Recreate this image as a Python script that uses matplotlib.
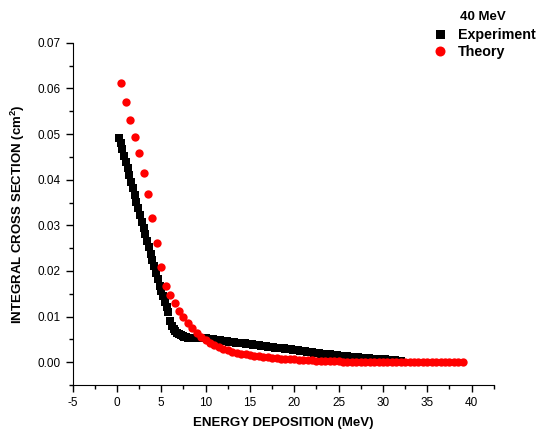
import numpy as np
import matplotlib
matplotlib.use("Agg")
import matplotlib.pyplot as plt
from matplotlib.ticker import MultipleLocator

plt.rcParams['font.family'] = ['Liberation Sans', 'DejaVu Sans']
plt.rcParams['mathtext.fontset'] = 'custom'
plt.rcParams['mathtext.rm'] = 'Liberation Sans'
plt.rcParams['mathtext.bf'] = 'Liberation Sans:bold'
plt.rcParams['axes.unicode_minus'] = False

# experiment: 0.2 MeV grid from 0.2 to 32.0
exp_energy = np.round(np.arange(0.2, 32.01, 0.2), 1)
exp_sigma = [
    0.0492, 0.0480, 0.0467, 0.0453, 0.0439, 0.0425, 0.0411, 0.0396, 0.0381, 0.0366,
    0.0352, 0.0337, 0.0323, 0.0308, 0.0294, 0.0280, 0.0266, 0.0252, 0.0238, 0.0224,
    0.0210, 0.0196, 0.0182, 0.0168, 0.0156, 0.0144, 0.0132, 0.0120, 0.0109, 0.0090,
    0.0080, 0.0073, 0.0068, 0.0064, 0.0061, 0.0059, 0.0057, 0.0056, 0.0055, 0.0054,
    0.0053, 0.0053, 0.0053, 0.0052, 0.0052, 0.0052, 0.0052, 0.0052, 0.0052,
    0.0052, 0.0051, 0.0051, 0.0050, 0.0050, 0.0049, 0.0049, 0.0048, 0.0048, 0.0047,
    0.0047, 0.0046, 0.0046, 0.0045, 0.0045, 0.0044, 0.0044, 0.0043, 0.0043, 0.0042,
    0.0042, 0.0041, 0.0041, 0.0040, 0.0040, 0.0039, 0.0039, 0.0038, 0.0038, 0.0037,
    0.0037, 0.0036, 0.0036, 0.0035, 0.0035, 0.0034, 0.0034, 0.0033, 0.0033, 0.0032,
    0.0032, 0.0031, 0.0031, 0.0030, 0.0030, 0.0029, 0.0029, 0.0028, 0.0028, 0.0027,
    0.0027, 0.0026, 0.0026, 0.0025, 0.0025, 0.0024, 0.0024, 0.0023, 0.0023, 0.0022,
    0.0022, 0.0021, 0.0021, 0.0020, 0.0020, 0.0019, 0.0019, 0.0018, 0.0018, 0.0017,
    0.0017, 0.0016, 0.0016, 0.0015, 0.0015, 0.0014, 0.0014, 0.0014, 0.0013, 0.0013,
    0.0013, 0.0012, 0.0012, 0.0012, 0.0011, 0.0011, 0.0011, 0.0010, 0.0010, 0.0010,
    0.0009, 0.0009, 0.0009, 0.0008, 0.0008, 0.0008, 0.0007, 0.0007, 0.0007, 0.0006,
    0.0006, 0.0006, 0.0005, 0.0005, 0.0005, 0.0004, 0.0004, 0.0004, 0.0003, 0.0003,
    0.0003,
]

# theory: 0.5 MeV grid from 0.5 to 39.0
th_energy = np.arange(0.5, 39.01, 0.5)
th_sigma = [
    0.0612, 0.0570, 0.0530, 0.0494, 0.0458, 0.0415, 0.0368, 0.0316, 0.0262, 0.0208,
    0.0166, 0.0147, 0.0129, 0.0113, 0.0099, 0.0086, 0.0074, 0.0064, 0.0055, 0.0048,
    0.0042, 0.0037, 0.0033, 0.0029, 0.0026, 0.0023, 0.0021, 0.0019, 0.0017, 0.0015,
    0.0014, 0.0013, 0.0012, 0.0011, 0.0010, 0.0009, 0.0008, 0.0007, 0.0007, 0.0006,
    0.0005, 0.0005, 0.0004, 0.0004, 0.0003, 0.0003, 0.0003, 0.0002, 0.0002, 0.0002,
    0.0001, 0.0001, 0.0001, 0.0001, 0.0001, 0.0001, 0.0001, 0.0001, 0.0001, 0.0,
    0.0, 0.0, 0.0, 0.0, 0.0, 0.0, 0.0, 0.0, 0.0, 0.0,
    0.0, 0.0, 0.0, 0.0, 0.0, 0.0, 0.0, 0.0,
]

fig = plt.figure(figsize=(5.42, 4.37), dpi=100)
ax = fig.add_axes([0.134, 0.119, 0.777, 0.783])

ax.plot(exp_energy, exp_sigma, 's', color='black', ms=5.4, mew=0, label='Experiment')
ax.plot(th_energy, th_sigma, 'o', color='red', ms=6.0, mew=0, label='Theory')

ax.set_xlim(-5, 42.5)
ax.set_ylim(-0.005, 0.07)
ax.xaxis.set_major_locator(MultipleLocator(5))
ax.xaxis.set_minor_locator(MultipleLocator(2.5))
ax.yaxis.set_major_locator(MultipleLocator(0.01))
ax.yaxis.set_minor_locator(MultipleLocator(0.005))
ax.yaxis.set_major_formatter(plt.FormatStrFormatter('%.2f'))
ax.spines['top'].set_visible(False)
ax.spines['right'].set_visible(False)
ax.tick_params(which='major', direction='out', length=5, width=1, labelsize=8.5)
ax.tick_params(which='minor', direction='out', length=3, width=1)

ax.set_xlabel('ENERGY DEPOSITION (MeV)', fontsize=9.5, fontweight='bold', labelpad=6)
ax.set_ylabel(r'INTEGRAL CROSS SECTION (cm$^\mathbf{2}$)', fontsize=9.5,
              fontweight='bold', labelpad=8)

fig.text(0.849, 0.962, '40 MeV', fontsize=9.5, fontweight='bold', va='center')
fig.legend(loc='upper left', bbox_to_anchor=(0.8, 0.937), frameon=False,
           prop={'size': 10.3, 'weight': 'bold'}, handletextpad=0.8, markerscale=1.2,
           labelspacing=0.25, handlelength=0.9, borderaxespad=0, borderpad=0)

fig.savefig('out.png', dpi=100)
